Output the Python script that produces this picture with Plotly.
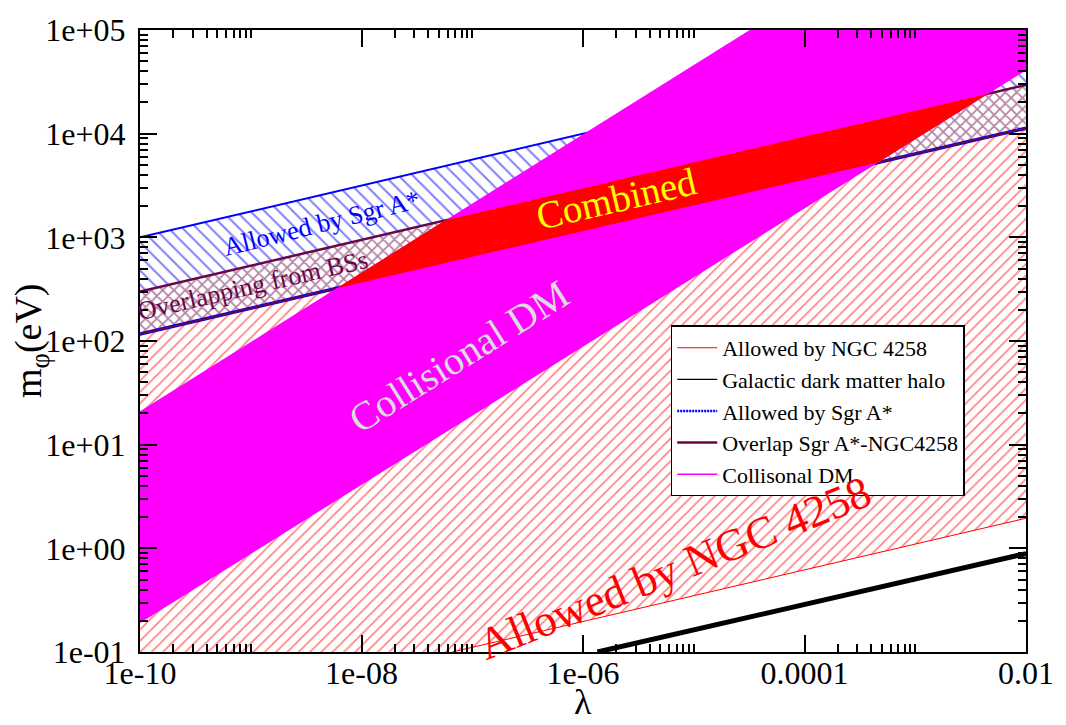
import math
import plotly.graph_objects as go

# ---------------- data ----------------
lam_span = [1e-10, 1e-2]                 # lambda at left / right plot edges
sgr_upper = [1000, 1.0e5]                # Allowed by Sgr A*: upper edge
overlap_upper = [300, 29500]             # NGC 4258 upper edge (top of overlap)
overlap_lower = [117, 11300]             # Sgr A* lower edge (bottom of overlap)
ngc_lower_lam = [6.6e-8, 1e-2]           # NGC 4258 lower edge
ngc_lower_m = [0.1, 1.95]
halo_lam = [1.35e-6, 1e-2]               # Galactic dark matter halo
halo_m = [0.1, 0.89]
cdm_upper_lam = [1e-10, 3.2e-5]          # Collisional DM upper edge
cdm_upper_m = [21, 1.0e5]
cdm_lower_m = [0.19, 41000]              # Collisional DM lower edge (at lam_span)
m_floor, m_ceil = 0.1, 1.0e5

x_tickvals = [1e-10, 1e-8, 1e-6, 1e-4, 1e-2]
x_ticktext = ["1e-10", "1e-08", "1e-06", "0.0001", "0.01"]
y_tickvals = [1e-1, 1e0, 1e1, 1e2, 1e3, 1e4, 1e5]
y_ticktext = ["1e-01", "1e+00", "1e+01", "1e+02", "1e+03", "1e+04", "1e+05"]

legend_names = ["Allowed by NGC 4258", "Galactic dark matter halo", "Allowed by Sgr A*",
                "Overlap Sgr A*-NGC4258", "Collisonal DM"]

# ---------------- helpers ----------------
def loglin(xs, ys):
    lx = [math.log10(v) for v in xs]
    ly = [math.log10(v) for v in ys]
    s = (ly[1] - ly[0]) / (lx[1] - lx[0])
    return s, ly[0] - s * lx[0]

def intersect(l1, l2):
    s1, b1 = l1
    s2, b2 = l2
    u = (b2 - b1) / (s1 - s2)
    return 10 ** u, 10 ** (s1 * u + b1)

FONT = "Liberation Serif"
RED = "#ff0000"
BLUE = "#0000ff"
MAROON = "#670748"
MAGENTA = "#ff00ff"

fig = go.Figure()

def poly(xs, ys, **kw):
    fig.add_trace(go.Scatter(x=xs + [xs[0]], y=ys + [ys[0]], mode="lines", fill="toself",
                             line=dict(width=0), showlegend=False, hoverinfo="skip", **kw))

# NGC 4258 allowed region (red hatch)
poly([lam_span[0], lam_span[1], lam_span[1], ngc_lower_lam[0], lam_span[0]],
     [overlap_upper[0], overlap_upper[1], ngc_lower_m[1], m_floor, m_floor],
     fillcolor="rgba(0,0,0,0)",
     fillpattern=dict(shape="/", size=8, solidity=0.2, fgcolor=RED, bgcolor="white"))

# Sgr A* allowed region (blue hatch)
poly([lam_span[0], lam_span[1], lam_span[1], lam_span[0]],
     [sgr_upper[0], sgr_upper[1], overlap_lower[1], overlap_lower[0]],
     fillcolor="rgba(0,0,0,0)",
     fillpattern=dict(shape="\\", size=10, solidity=0.2, fgcolor=BLUE, bgcolor="white"))

# Overlap region (maroon cross hatch)
poly([lam_span[0], lam_span[1], lam_span[1], lam_span[0]],
     [overlap_upper[0], overlap_upper[1], overlap_lower[1], overlap_lower[0]],
     fillcolor="rgba(0,0,0,0)",
     fillpattern=dict(shape="x", size=8, solidity=0.4, fgcolor=MAROON, bgcolor="white"))

def line(xs, ys, color, width, dash=None):
    fig.add_trace(go.Scatter(x=xs, y=ys, mode="lines", showlegend=False, hoverinfo="skip",
                             line=dict(color=color, width=width, dash=dash)))

line(lam_span, sgr_upper, BLUE, 2)
line(lam_span, overlap_lower, BLUE, 3.5)
line(lam_span, overlap_lower, MAROON, 2)
line(lam_span, overlap_upper, MAROON, 2.5)
line(ngc_lower_lam, ngc_lower_m, RED, 1)
line(halo_lam, halo_m, "black", 5)

# Collisional DM band (magenta)
poly([cdm_upper_lam[0], cdm_upper_lam[1], lam_span[1], lam_span[1], lam_span[0]],
     [cdm_upper_m[0], cdm_upper_m[1], m_ceil, cdm_lower_m[1], cdm_lower_m[0]],
     fillcolor=MAGENTA)

# Combined region: Collisional DM band inside the overlap band (solid red)
L_mu = loglin(cdm_upper_lam, cdm_upper_m)
L_ml = loglin(lam_span, cdm_lower_m)
L1 = loglin(lam_span, overlap_lower)
L2 = loglin(lam_span, overlap_upper)
pts = [intersect(L_mu, L1), intersect(L_mu, L2), intersect(L_ml, L2), intersect(L_ml, L1)]
poly([p[0] for p in pts], [p[1] for p in pts], fillcolor=RED)

# Legend-only entries
leg_styles = [dict(color=RED, width=1), dict(color="black", width=1.2),
              dict(color=BLUE, width=2.5, dash="2px,1px"), dict(color=MAROON, width=2.5),
              dict(color=MAGENTA, width=1.5)]
for name, st in zip(legend_names, leg_styles):
    fig.add_trace(go.Scatter(x=[None], y=[None], mode="lines", name=name, line=st))

# Annotations (positions as log10 data coordinates)
def ann(text, lx, ly, color, size, angle):
    fig.add_annotation(text=text, x=lx, y=ly, xref="x", yref="y", showarrow=False,
                       textangle=angle, font=dict(family=FONT, size=size, color=color),
                       xanchor="center", yanchor="middle")

ann("Allowed by Sgr A*", -8.36, 3.13, BLUE, 26, -14)
ann("Overlapping from BSs", -8.98, 2.54, MAROON, 26, -13)
ann("Combined", -5.70, 3.37, "#ffff00", 39, -13)
ann("Collisional DM", -7.12, 1.85, "#dcdcdc", 40, -32)
ann("Allowed by NGC 4258", -5.17, -0.19, RED, 45, -22)

# Axis titles
fig.add_annotation(text="λ", xref="paper", yref="paper", x=0.5, y=-0.1162, showarrow=False,
                   xanchor="center", yanchor="bottom",
                   font=dict(family=FONT, size=36, color="black"))
fig.add_annotation(text="m<sub>φ</sub>(eV)", xref="paper", yref="paper", x=-0.123, y=0.5,
                   showarrow=False, textangle=-90, xanchor="center", yanchor="middle",
                   font=dict(family=FONT, size=38, color="black"))

minor_x = [k * 10.0 ** m for m in (-10, -8, -6, -4) for k in range(2, 11)]
minor_y = [k * 10.0 ** m for m in range(-1, 5) for k in range(2, 10)]

axis_common = dict(type="log", showgrid=False, zeroline=False, showline=True, linecolor="black",
                   linewidth=2, mirror="ticks", ticks="inside", ticklen=17, tickwidth=1.5,
                   tickcolor="black", tickfont=dict(family=FONT, size=32, color="black"))

fig.update_xaxes(range=[math.log10(lam_span[0]), math.log10(lam_span[1])],
                 tickmode="array", tickvals=x_tickvals, ticktext=x_ticktext,
                 ticklabelstandoff=-8,
                 minor=dict(tickmode="array", tickvals=minor_x, ticks="inside", ticklen=8,
                            tickwidth=1.5, tickcolor="black", showgrid=False),
                 **axis_common)
fig.update_yaxes(range=[math.log10(m_floor), math.log10(m_ceil)],
                 tickmode="array", tickvals=y_tickvals, ticktext=y_ticktext,
                 ticklabelstandoff=6,
                 minor=dict(tickmode="array", tickvals=minor_y, ticks="inside", ticklen=8,
                            tickwidth=1.5, tickcolor="black", showgrid=False),
                 **axis_common)

fig.update_layout(
    width=1066, height=725,
    margin=dict(l=140, r=29, t=24, b=73),
    paper_bgcolor="white", plot_bgcolor="white",
    font=dict(family=FONT, color="black"),
    showlegend=True,
    legend=dict(x=0.599, y=0.525, xanchor="left", yanchor="top", bgcolor="white",
                bordercolor="black", borderwidth=1.5, font=dict(family=FONT, size=22),
                tracegroupgap=0, itemwidth=40),
)

fig.write_html("out.html", config={"displayModeBar": False},
               post_script="document.body.style.margin='0';document.body.style.overflow='hidden';")
